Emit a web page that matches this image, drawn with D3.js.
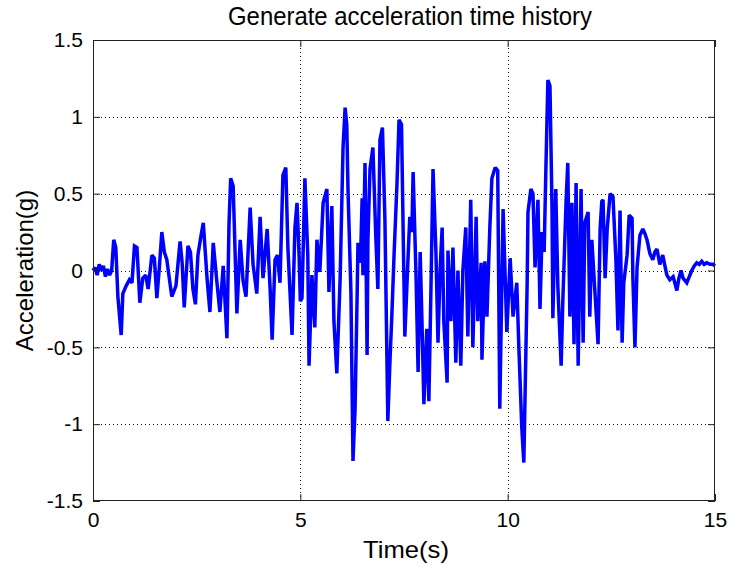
<!DOCTYPE html>
<html>
<head>
<meta charset="utf-8">
<script src="https://cdn.jsdelivr.net/npm/d3@7"></script>
<style>
  html, body { margin: 0; padding: 0; background: #fff; }
  svg { display: block; }
  text { font-family: "Liberation Sans", Arial, Helvetica, sans-serif; fill: #000; }
</style>
</head>
<body>
<svg id="chart" width="740" height="571"></svg>
<script>
// ---- data ----
const titleText = "Generate acceleration time history";
const xLabelText = "Time(s)";
const yLabelText = "Acceleration(g)";
const xTicks = [0, 5, 10, 15];
const xTickLabels = ["0", "5", "10", "15"];
const yTicks = [-1.5, -1, -0.5, 0, 0.5, 1, 1.5];
const yTickLabels = ["-1.5", "-1", "-0.5", "0", "0.5", "1", "1.5"];
const xGrid = [5, 10];
const yGrid = [-1, -0.5, 0, 0.5, 1];

const times = [
  0.00,0.05,0.10,0.15,0.20,0.25,0.30,0.35,0.40,0.45,0.50,0.55,0.60,0.68,0.72,0.80,0.88,0.94,
  1.00,1.06,1.13,1.20,1.27,1.33,1.42,1.48,1.54,1.60,1.66,1.72,1.78,1.90,
  2.00,2.10,2.15,2.20,2.29,2.35,2.41,2.47,2.53,2.60,2.66,2.75,2.82,2.90,2.99,
  3.06,3.14,3.23,3.28,3.32,3.38,3.47,3.55,3.62,3.69,3.79,3.86,3.95,
  4.03,4.10,4.20,4.27,4.32,4.39,4.45,4.51,4.58,4.65,4.70,4.80,4.87,4.92,4.97,
  5.00,5.04,5.11,5.18,5.21,5.28,5.35,5.40,5.47,5.55,5.64,5.69,5.76,5.81,5.88,5.96,
  6.03,6.08,6.12,6.15,6.22,6.27,6.32,6.37,6.39,6.45,6.49,6.51,6.56,6.61,6.63,6.68,6.75,6.82,6.87,6.92,6.98,
  7.04,7.11,7.16,7.21,7.26,7.33,7.38,7.44,7.48,7.52,7.60,7.64,7.69,7.72,7.79,7.84,7.89,7.93,7.98,
  8.05,8.10,8.15,8.20,8.27,8.32,8.37,8.42,8.46,8.54,8.56,8.63,8.68,8.75,8.80,8.87,8.92,8.99,
  9.04,9.11,9.16,9.24,9.28,9.36,9.38,9.45,9.50,9.57,9.62,9.70,9.76,9.81,9.89,9.98,
  10.06,10.13,10.22,10.27,10.34,10.39,10.47,10.49,10.56,10.61,10.66,10.73,10.78,10.83,10.88,10.92,10.97,
  11.02,11.07,11.09,11.16,11.21,11.29,11.33,11.41,11.45,11.50,11.55,11.60,11.65,11.70,11.77,11.82,11.86,11.94,11.98,
  12.03,12.10,12.18,12.23,12.27,12.30,12.35,12.40,12.47,12.54,12.61,12.66,12.71,12.76,12.80,12.88,12.93,
  13.00,13.02,13.07,13.12,13.19,13.26,13.31,13.36,13.43,13.50,13.55,13.60,13.67,13.74,13.80,13.84,13.91,13.99,
  14.04,14.08,14.13,14.18,14.23,14.32,14.38,14.44,14.50,14.56,14.62,14.68,14.74,14.80,14.88,14.95,15.00
];
const accel = [
  0.00,0.02,-0.03,0.04,0.00,0.03,-0.04,0.01,-0.03,0.00,0.20,0.15,-0.17,-0.42,-0.15,-0.10,-0.06,-0.08,
  0.16,0.15,-0.21,-0.05,-0.03,-0.12,0.10,0.08,-0.18,0.02,0.25,0.12,0.07,-0.17,
  -0.10,0.19,0.05,-0.24,0.16,0.12,-0.12,-0.22,0.10,0.22,0.31,-0.05,-0.27,0.18,-0.08,
  -0.27,0.03,-0.44,0.30,0.60,0.55,-0.28,0.20,-0.07,-0.17,0.41,0.04,-0.15,
  0.35,-0.05,0.27,-0.11,-0.45,0.07,0.10,-0.08,0.62,0.67,0.15,-0.42,0.28,0.44,0.10,
  -0.20,-0.18,0.60,0.10,-0.62,-0.03,-0.37,0.20,-0.01,0.44,0.53,-0.14,0.42,-0.33,-0.67,-0.05,
  0.80,1.06,0.95,0.52,-0.14,-1.24,-0.90,-0.16,0.18,0.05,0.47,-0.03,0.70,-0.55,0.20,0.66,0.80,0.22,-0.12,0.85,0.93,
  0.33,-0.98,-0.60,-0.27,0.10,0.56,0.98,0.95,0.25,-0.43,0.10,0.35,0.25,0.64,-0.03,-0.66,0.12,-0.30,-0.87,
  -0.38,-0.85,-0.12,0.66,0.12,-0.47,0.00,0.28,-0.33,-0.73,0.13,-0.33,0.15,-0.60,0.00,-0.62,0.00,0.28,
  -0.43,0.46,-0.50,0.35,-0.33,0.05,-0.58,0.06,-0.30,0.28,0.60,0.67,0.65,-0.90,0.40,-0.40,
  0.08,-0.30,-0.08,-0.50,-1.02,-1.25,-0.08,0.38,0.53,0.50,0.02,0.46,-0.25,0.25,0.12,0.64,1.24,
  1.20,0.40,-0.31,0.53,-0.10,-0.62,-0.20,0.46,0.70,-0.30,0.44,-0.48,0.57,-0.62,0.53,-0.47,0.31,0.38,-0.30,
  0.20,-0.12,-0.48,0.27,0.45,0.46,-0.05,0.27,0.50,0.48,0.07,-0.39,0.39,-0.47,-0.08,0.10,0.36,
  0.34,-0.05,-0.50,0.02,0.23,0.27,0.24,0.20,0.11,0.07,0.12,0.14,0.04,0.10,0.02,-0.03,-0.06,-0.04,
  -0.09,-0.13,-0.05,0.00,-0.05,-0.08,-0.04,0.00,0.03,0.05,0.04,0.06,0.04,0.05,0.04,0.04,0.03
];

// ---- layout ----
const L = 93, R = 715, T = 40, B = 501;

const svg = d3.select("#chart");
const x = d3.scaleLinear().domain([0, 15]).range([L, R]);
const y = d3.scaleLinear().domain([-1.5, 1.5]).range([B, T]);

svg.append("rect").attr("x", L).attr("y", T).attr("width", R - L).attr("height", B - T).attr("fill", "#fff");

// grid (dotted)
const grid = svg.append("g").attr("stroke", "#111").attr("stroke-width", 1).attr("stroke-dasharray", "1,3");
grid.selectAll("line.vx").data(xGrid).join("line")
  .attr("x1", d => Math.round(x(d)) + 0.5).attr("x2", d => Math.round(x(d)) + 0.5)
  .attr("y1", T).attr("y2", B);
grid.selectAll("line.hy").data(yGrid).join("line")
  .attr("y1", d => Math.round(y(d)) + 0.5).attr("y2", d => Math.round(y(d)) + 0.5)
  .attr("x1", L).attr("x2", R);

// data line
const line = d3.line().x((d, i) => x(times[i])).y(d => y(d));
svg.append("path").datum(accel)
  .attr("d", line)
  .attr("fill", "none")
  .attr("stroke", "#0000ff")
  .attr("stroke-width", 3.5)
  .attr("stroke-linejoin", "miter")
  .attr("stroke-miterlimit", 2);

// axes (ticks inward, box on)
const tickLen = 7;
const fmtX = d => xTickLabels[xTicks.indexOf(d)];
const fmtY = d => yTickLabels[yTicks.indexOf(d)];
const axB = d3.axisBottom(x).tickValues(xTicks).tickSizeInner(-tickLen).tickSizeOuter(0).tickPadding(11).tickFormat(fmtX);
const axT = d3.axisTop(x).tickValues(xTicks).tickSizeInner(-tickLen).tickSizeOuter(0).tickFormat("");
const axL = d3.axisLeft(y).tickValues(yTicks).tickSizeInner(-tickLen).tickSizeOuter(0).tickPadding(10).tickFormat(fmtY);
const axR = d3.axisRight(y).tickValues(yTicks).tickSizeInner(-tickLen).tickSizeOuter(0).tickFormat("");

function styleAxis(g) {
  g.select(".domain").remove();
  g.selectAll(".tick line").attr("stroke", "#222").attr("stroke-width", 1);
  g.selectAll(".tick text").attr("font-size", 21).attr("fill", "#000")
    .attr("font-family", "'Liberation Sans', Arial, sans-serif");
}
svg.append("g").attr("transform", `translate(0,${B})`).call(axB).call(styleAxis);
svg.append("g").attr("transform", `translate(0,${T})`).call(axT).call(styleAxis);
svg.append("g").attr("transform", `translate(${L},0)`).call(axL).call(styleAxis);
svg.append("g").attr("transform", `translate(${R},0)`).call(axR).call(styleAxis);

// box
svg.append("rect").attr("x", L + 0.5).attr("y", T + 0.5).attr("width", R - L - 1).attr("height", B - T - 1)
  .attr("fill", "none").attr("stroke", "#222").attr("stroke-width", 1);

// labels
svg.append("text").attr("x", (L + R) / 2 + 6).attr("y", 25).attr("text-anchor", "middle")
  .attr("font-size", 25).attr("textLength", 364).attr("lengthAdjust", "spacingAndGlyphs").text(titleText);
svg.append("text").attr("x", (L + R) / 2 + 2).attr("y", 558).attr("text-anchor", "middle")
  .attr("font-size", 24).attr("textLength", 86).attr("lengthAdjust", "spacingAndGlyphs").text(xLabelText);
svg.append("text").attr("transform", `translate(33,${(T + B) / 2}) rotate(-90)`).attr("text-anchor", "middle")
  .attr("font-size", 24).text(yLabelText);
</script>
</body>
</html>
